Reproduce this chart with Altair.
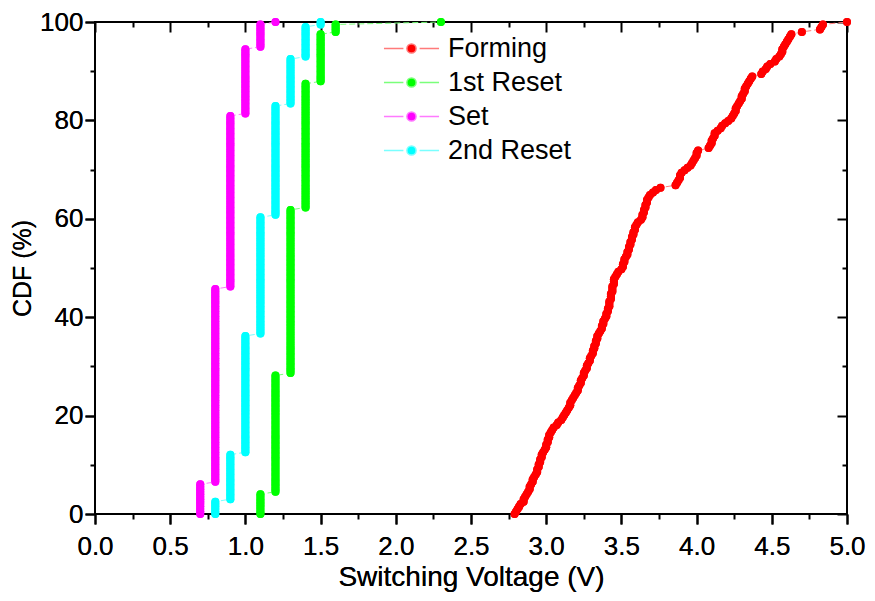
import altair as alt
import numpy as np
import pandas as pd

series_names = ["Forming", "1st Reset", "Set", "2nd Reset"]
dot_colors = ["#ff0000", "#00ff00", "#ff00ff", "#00ffff"]
line_colors = ["#ff7a7a", "#7aff7a", "#ff7aff", "#7affff"]

forming_volts = [
    2.79, 2.80, 2.81, 2.82, 2.83, 2.85, 2.85, 2.86, 2.87, 2.88,
    2.89, 2.89, 2.90, 2.91, 2.91, 2.92, 2.93, 2.94, 2.94, 2.95,
    2.95, 2.96, 2.96, 2.97, 2.97, 2.98, 2.99, 3.00, 3.00, 3.01,
    3.01, 3.02, 3.02, 3.03, 3.04, 3.05, 3.07, 3.08, 3.10, 3.11,
    3.12, 3.13, 3.14, 3.15, 3.16, 3.16, 3.17, 3.18, 3.19, 3.20,
    3.21, 3.21, 3.22, 3.23, 3.23, 3.24, 3.25, 3.25, 3.26, 3.27,
    3.27, 3.28, 3.29, 3.29, 3.30, 3.31, 3.31, 3.32, 3.32, 3.33,
    3.33, 3.34, 3.34, 3.35, 3.36, 3.37, 3.37, 3.38, 3.38, 3.39,
    3.40, 3.40, 3.41, 3.41, 3.42, 3.42, 3.42, 3.43, 3.43, 3.43,
    3.44, 3.44, 3.44, 3.45, 3.45, 3.45, 3.46, 3.47, 3.48, 3.50,
    3.51, 3.51, 3.52, 3.52, 3.53, 3.54, 3.54, 3.55, 3.55, 3.56,
    3.56, 3.57, 3.57, 3.58, 3.58, 3.59, 3.59, 3.60, 3.61, 3.63,
    3.64, 3.64, 3.65, 3.65, 3.66, 3.66, 3.67, 3.67, 3.68, 3.69,
    3.71, 3.73, 3.76, 3.86, 3.87, 3.88, 3.89, 3.89, 3.90, 3.92,
    3.94, 3.96, 3.97, 3.98, 3.99, 4.00, 4.00, 4.01, 4.08, 4.09,
    4.10, 4.10, 4.11, 4.12, 4.12, 4.14, 4.16, 4.17, 4.19, 4.21,
    4.23, 4.24, 4.25, 4.26, 4.26, 4.27, 4.28, 4.29, 4.30, 4.30,
    4.31, 4.32, 4.32, 4.33, 4.34, 4.35, 4.36, 4.37, 4.43, 4.44,
    4.46, 4.47, 4.49, 4.52, 4.53, 4.55, 4.56, 4.57, 4.57, 4.58,
    4.59, 4.60, 4.61, 4.62, 4.63, 4.70, 4.82, 4.83, 4.84, 5.00,
]

# Discrete-step series: voltage levels and number of devices at each level
reset1_levels = [1.1, 1.2, 1.3, 1.4, 1.5, 1.6, 2.3]
reset1_counts = [9, 48, 67, 51, 20, 4, 1]

set_levels = [0.7, 0.8, 0.9, 1.0, 1.1, 1.2]
set_counts = [13, 79, 70, 27, 10, 1]

reset2_levels = [0.8, 0.9, 1.0, 1.1, 1.2, 1.3, 1.4, 1.5]
reset2_counts = [6, 19, 48, 48, 45, 19, 13, 2]

x_major = [0.0, 0.5, 1.0, 1.5, 2.0, 2.5, 3.0, 3.5, 4.0, 4.5, 5.0]
x_minor = [0.25, 0.75, 1.25, 1.75, 2.25, 2.75, 3.25, 3.75, 4.25, 4.75]
y_major = [0, 20, 40, 60, 80, 100]
y_minor = [10, 30, 50, 70, 90]

FONT = "Liberation Sans"


def cdf_frame(name, volts):
    v = np.sort(np.asarray(volts, dtype=float))
    n = len(v)
    return pd.DataFrame({
        "series": name,
        "volt": v,
        "cdf": np.arange(n) / (n - 1) * 100.0,
        "rank": np.arange(n),
    })


df = pd.concat([
    cdf_frame("Forming", forming_volts),
    cdf_frame("1st Reset", np.repeat(reset1_levels, reset1_counts)),
    cdf_frame("Set", np.repeat(set_levels, set_counts)),
    cdf_frame("2nd Reset", np.repeat(reset2_levels, reset2_counts)),
], ignore_index=True)

xscale = alt.Scale(domain=[0, 5], nice=False, zero=False)
yscale = alt.Scale(domain=[0, 100], nice=False, zero=False)

legend_path = ("M-2.04,0L-0.6,0M0.6,0L2.04,0"
               "M-0.34,0A0.34,0.34,0,1,0,0.34,0A0.34,0.34,0,1,0,-0.34,0Z")
leg = alt.Legend(
    title=None, orient="none", legendX=302, legendY=12,
    symbolType=legend_path, symbolSize=729, symbolStrokeWidth=1.5,
    labelFont=FONT, labelFontSize=27, labelColor="black",
    labelOffset=22, rowPadding=6, padding=0,
)
fill_scale = alt.Scale(domain=series_names, range=dot_colors)
stroke_scale = alt.Scale(domain=series_names, range=line_colors)

lines = alt.Chart(df).mark_line(strokeWidth=1, strokeDash=[6, 3]).encode(
    x=alt.X("volt:Q", scale=xscale, axis=None),
    y=alt.Y("cdf:Q", scale=yscale, axis=None),
    stroke=alt.Stroke("series:N", scale=stroke_scale, sort=series_names, legend=leg),
    order=alt.Order("rank:Q"),
)

points = alt.Chart(df).mark_point(filled=True, size=64, opacity=1, strokeWidth=0).encode(
    x=alt.X("volt:Q", scale=xscale, axis=alt.Axis(
        values=x_major, format=".1f", tickSize=10, tickWidth=2, tickColor="black",
        domain=False, grid=False, labelFont=FONT, labelFontSize=26, labelColor="black",
        labelFlush=False, labelPadding=9, title="Switching Voltage (V)", titleFont=FONT,
        titleFontSize=28, titleFontWeight="normal", titleColor="black", titlePadding=4,
        orient="bottom")),
    y=alt.Y("cdf:Q", scale=yscale, axis=alt.Axis(
        values=y_major, format="d", tickSize=10, tickWidth=2, tickColor="black",
        domain=False, grid=False, labelFont=FONT, labelFontSize=26, labelColor="black",
        labelFlush=False, labelPadding=2, title="CDF (%)", titleFont=FONT, titleFontSize=25,
        titleFontWeight="normal", titleColor="black", titlePadding=4, orient="left")),
    fill=alt.Fill("series:N", scale=fill_scale, sort=series_names, legend=leg),
    stroke=alt.Stroke("series:N", scale=stroke_scale, sort=series_names, legend=leg),
)

dummy = pd.DataFrame({"volt": [0.0], "cdf": [0.0]})


def tick_layer(xvals, yvals, size, xorient, yorient, offset):
    return alt.Chart(dummy).mark_point(opacity=0).encode(
        x=alt.X("volt:Q", scale=xscale, axis=alt.Axis(
            values=xvals, orient=xorient, tickSize=size, tickWidth=2, tickColor="black",
            offset=offset, labels=False, domain=False, grid=False, title=None)),
        y=alt.Y("cdf:Q", scale=yscale, axis=alt.Axis(
            values=yvals, orient=yorient, tickSize=size, tickWidth=2, tickColor="black",
            offset=offset, labels=False, domain=False, grid=False, title=None)),
    )


minor_out = tick_layer(x_minor, y_minor, 5, "bottom", "left", 0)
major_in = tick_layer(x_major, y_major, 10, "top", "right", -10)
minor_in = tick_layer(x_minor, y_minor, 5, "top", "right", -5)

chart = alt.layer(points, minor_out, major_in, minor_in, lines, points).resolve_axis(
    x="independent", y="independent"
).properties(
    width=752, height=492, autosize="none", background="white",
    padding={"left": 87, "top": 14, "right": 20, "bottom": 79},
).configure_view(stroke="black", strokeWidth=2)

chart.save("out.html", embed_options={"renderer": "svg", "actions": False})
